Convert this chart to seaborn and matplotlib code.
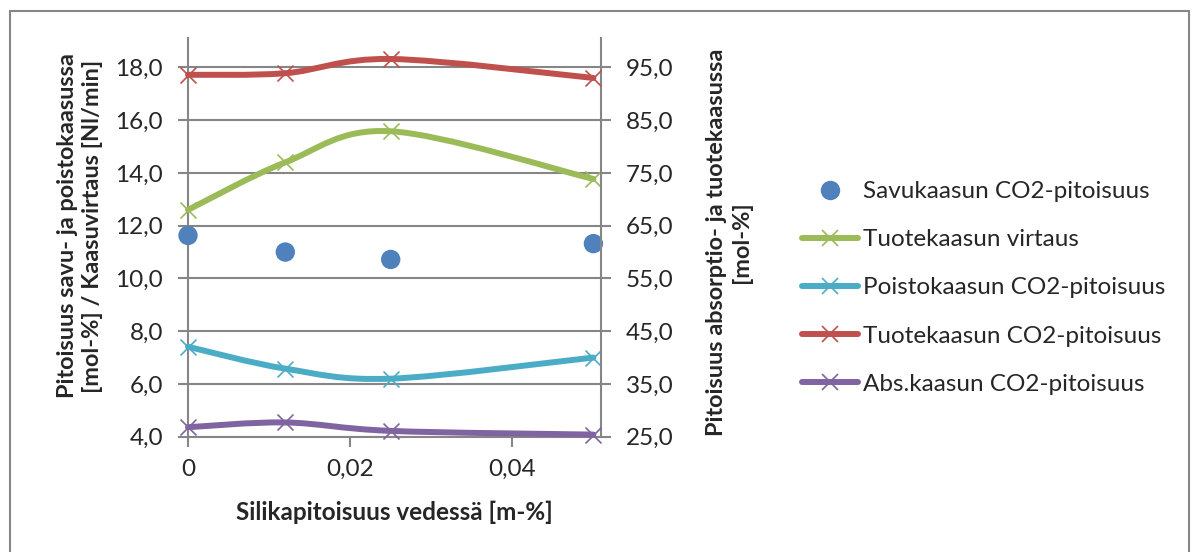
import numpy as np
import pandas as pd
import matplotlib
matplotlib.use("Agg")
import matplotlib.pyplot as plt
import seaborn as sns
from matplotlib.path import Path
from matplotlib.patches import PathPatch, Rectangle
from matplotlib.lines import Line2D

# ---------------- data ----------------
silica = [0, 0.012, 0.025, 0.05]
savukaasu_co2 = [11.63, 11.00, 10.72, 11.32]        # left axis
tuotekaasu_virtaus = [12.60, 14.40, 15.58, 13.77]   # left axis
poistokaasu_co2 = [7.41, 6.58, 6.20, 7.00]          # left axis
tuotekaasu_co2 = [93.6, 93.9, 96.6, 93.0]           # right axis
abskaasu_co2 = [26.8, 27.7, 26.1, 25.4]             # right axis

series_names = ["Savukaasun CO2-pitoisuus", "Tuotekaasun virtaus",
                "Poistokaasun CO2-pitoisuus", "Tuotekaasun CO2-pitoisuus",
                "Abs.kaasun CO2-pitoisuus"]

x_ticks = [0, 0.02, 0.04]
x_ticklabels = ["0", "0,02", "0,04"]
left_ticks = [4, 6, 8, 10, 12, 14, 16, 18]
left_ticklabels = ["4,0", "6,0", "8,0", "10,0", "12,0", "14,0", "16,0", "18,0"]
right_ticks = [25, 35, 45, 55, 65, 75, 85, 95]
right_ticklabels = ["25,0", "35,0", "45,0", "55,0", "65,0", "75,0", "85,0", "95,0"]

x_title = "Silikapitoisuus vedessä [m-%]"
left_title = "Pitoisuus savu- ja poistokaasussa\n[mol-%] / Kaasuvirtaus [Nl/min]"
right_title = "Pitoisuus absorptio- ja tuotekaasussa\n[mol-%]"

# ---------------- style ----------------
sns.set_style("white")
plt.rcParams["font.family"] = ["Lato", "DejaVu Sans"]

C_BLUE = "#4F81BD"
C_RED = "#C0504D"
C_GREEN = "#9BBB59"
C_CYAN = "#4BACC6"
C_PURPLE = "#8064A2"
GRID = "#868686"
FS = 17.5
FS_T = 16.9

W, H = 1198, 552
fig = plt.figure(figsize=(W / 100, H / 100), dpi=100)
x0, x1, y0, y1 = 188, 600.7, 38.4, 436.7
ax = fig.add_axes([x0 / W, 1 - y1 / H, (x1 - x0) / W, (y1 - y0) / H])
ax2 = ax.twinx()

ax.set_xlim(0, 0.0509)
ax.set_ylim(4, 19.1)
ax2.set_ylim(25, 100.5)


def smooth_path(xs, ys):
    P = np.column_stack([xs, ys]).astype(float)
    n = len(P)
    verts = [P[0]]
    codes = [Path.MOVETO]
    for i in range(n - 1):
        p_prev = P[i - 1] if i > 0 else P[i]
        p_next2 = P[i + 2] if i + 2 < n else P[i + 1]
        c1 = P[i] + (P[i + 1] - p_prev) / 6.0
        c2 = P[i + 1] - (p_next2 - P[i]) / 6.0
        verts += [c1, c2, P[i + 1]]
        codes += [Path.CURVE4] * 3
    return Path(verts, codes)


LW = 4.3
MS = 11.5
MEW = 1.2

def smooth_series(axis, ys, color, z):
    patch = PathPatch(smooth_path(silica, ys), fill=False, edgecolor=color,
                      lw=LW, zorder=z, capstyle="round", joinstyle="round")
    patch.set_clip_on(False)
    axis.add_patch(patch)
    df = pd.DataFrame({"x": silica, "y": ys})
    sns.scatterplot(data=df, x="x", y="y", ax=axis, marker="x", s=MS ** 2,
                    color=color, linewidth=MEW, zorder=z + 0.5, clip_on=False,
                    legend=False)

# left axis series
df_blue = pd.DataFrame({"x": silica, "y": savukaasu_co2})
sns.scatterplot(data=df_blue, x="x", y="y", ax=ax, s=195, color=C_BLUE,
                edgecolor="none", zorder=5, clip_on=False, legend=False)
smooth_series(ax, tuotekaasu_virtaus, C_GREEN, 4)
smooth_series(ax, poistokaasu_co2, C_CYAN, 4)
# right axis series
smooth_series(ax2, tuotekaasu_co2, C_RED, 4)
smooth_series(ax2, abskaasu_co2, C_PURPLE, 4)

# ---------------- axes formatting ----------------
for a in (ax, ax2):
    for s in a.spines.values():
        s.set_visible(False)
    a.set_xlabel("")
    a.set_ylabel("")

ax.spines["left"].set_visible(True)
ax.spines["bottom"].set_visible(True)
ax2.spines["right"].set_visible(True)
for s in (ax.spines["left"], ax.spines["bottom"], ax2.spines["right"]):
    s.set_color(GRID)
    s.set_linewidth(1.5)

ax.set_xticks(x_ticks)
ax.set_xticklabels(x_ticklabels)
ax.set_yticks(left_ticks)
ax.set_yticklabels(left_ticklabels)
ax2.set_yticks(right_ticks)
ax2.set_yticklabels(right_ticklabels)

ax.yaxis.grid(True, color=GRID, lw=1.5)
ax.xaxis.grid(False)
ax2.grid(False)
ax.set_axisbelow(True)

ax.tick_params(axis="x", direction="out", length=7, width=1.5, color=GRID,
               labelsize=FS, pad=9, bottom=True)
ax.tick_params(axis="y", direction="out", length=7, width=1.5, color=GRID,
               labelsize=FS, pad=11, left=True)
ax2.tick_params(axis="y", direction="out", length=7, width=1.5, color=GRID,
                labelsize=FS, pad=11, right=True)

ax.set_xlabel(x_title, fontsize=FS, fontweight="bold", labelpad=15)
fig.text(80 / W, 1 - 226 / H, left_title, rotation=90, ha="center",
         va="center", fontsize=FS_T, fontweight="bold", multialignment="center",
         linespacing=1.25)
fig.text(729 / W, 1 - 242 / H, right_title, rotation=90, ha="center",
         va="center", fontsize=FS_T, fontweight="bold", multialignment="center",
         linespacing=1.25)

# ---------------- legend ----------------
handles = [
    Line2D([], [], linestyle="none", marker="o", markersize=14,
           markerfacecolor=C_BLUE, markeredgecolor="none"),
    Line2D([], [], color=C_GREEN, lw=LW, marker="x", markersize=MS, mew=MEW),
    Line2D([], [], color=C_CYAN, lw=LW, marker="x", markersize=MS, mew=MEW),
    Line2D([], [], color=C_RED, lw=LW, marker="x", markersize=MS, mew=MEW),
    Line2D([], [], color=C_PURPLE, lw=LW, marker="x", markersize=MS, mew=MEW),
]
fig.legend(handles, series_names, loc="upper left",
           bbox_to_anchor=(802 / W, 1 - 181 / H), frameon=False, fontsize=FS,
           handlelength=2.3, handletextpad=0.2, labelspacing=1.12,
           borderaxespad=0, borderpad=0)

# chart border
fig.patches.append(Rectangle((10 / W, -0.05), (1189 - 10) / W,
                             (H - 11) / H + 0.05, transform=fig.transFigure,
                             fill=False, edgecolor=GRID, lw=1.5))

fig.savefig("out.png", dpi=100)
